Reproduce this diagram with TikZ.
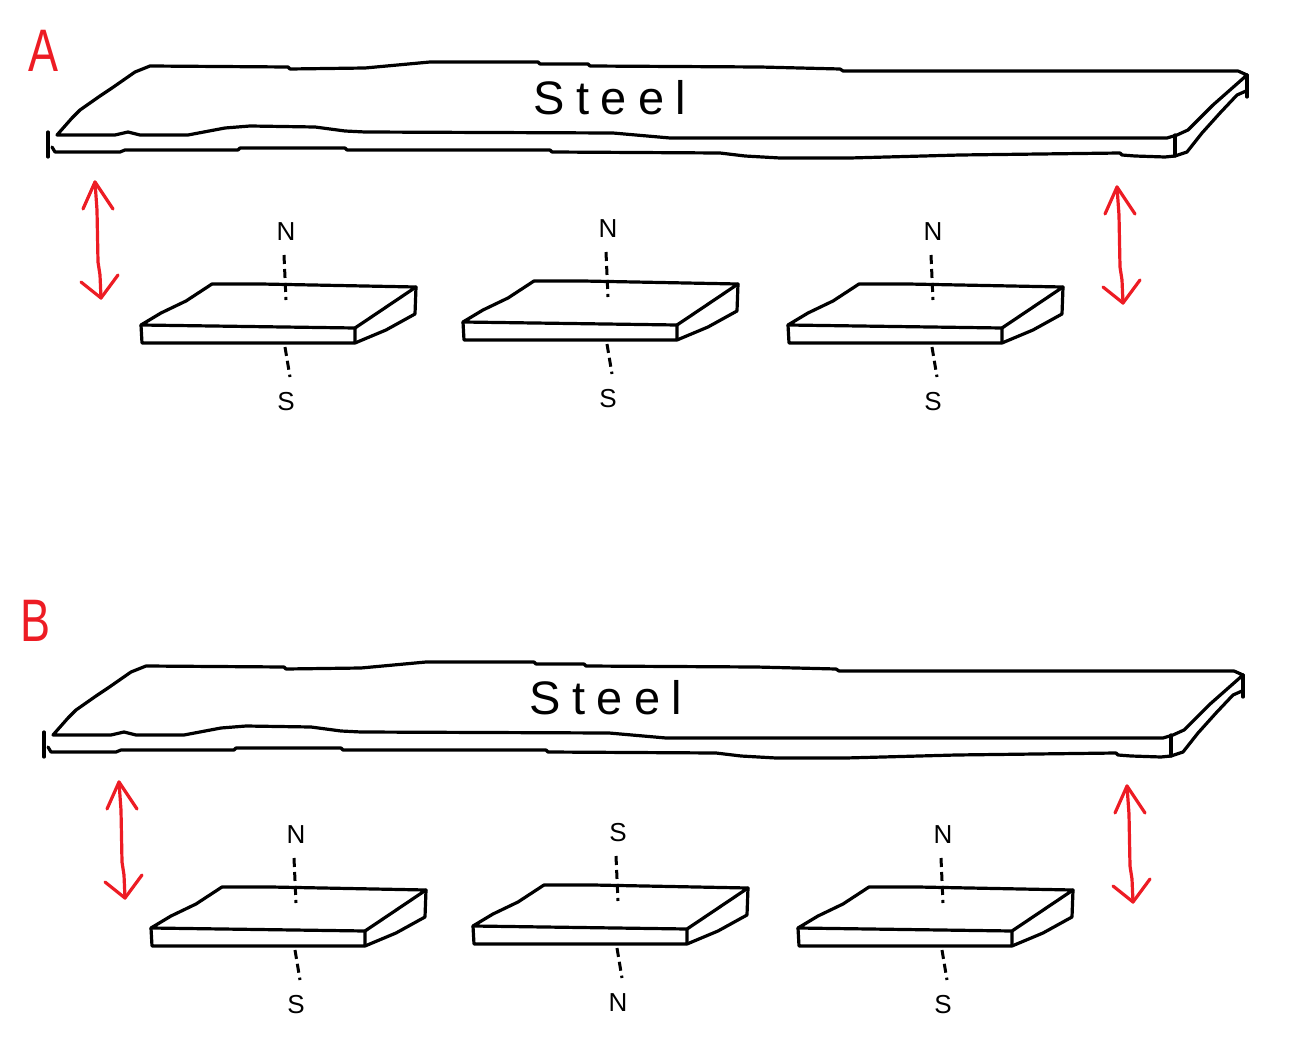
\documentclass[tikz,border=0pt]{standalone}
\usepackage{fontspec}
\setmainfont{Liberation Sans}
\definecolor{penred}{HTML}{ED1C24}
\newfontfamily\steelfont[LetterSpace=24]{Liberation Sans}
\newcommand{\steelplate}[2]{%
\begin{scope}[shift={(#1)}]
\draw[pen] (57,135)--(72,118)--(80,110)--(100,96)--(112,88)--(135,72)--(150,66)--(288,67)--(290,69)--(365,68)--(430,62)--(538,62)--(540,64)--(588,64)--(590,66)--(760,67)--(840,69)--(843,71)--(1238,71)--(1247,75)--(1213,105)--(1188,130)--(1177,135)--(1167,138)--(670,138)--(613,133)--(365,132)--(345,131)--(315,127)--(250,126)--(225,128)--(188,135)--(140,135)--(128,132)--(115,135)--cycle;
\draw[pen] (52,147)--(55,152)--(120,152)--(125,150)--(238,150)--(240,148)--(345,148)--(347,150)--(550,150)--(552,152)--(720,153)--(745,156)--(780,158)--(850,158)--(960,155)--(1120,153)--(1122,155)--(1135,156)--(1165,157)--(1175,156)--(1187,152)--(1202,133)--(1220,113)--(1237,95)--(1246,91);
\draw[pen] (1247,75)--(1247,97);
\draw[pen] (48,132)--(48,157);
\draw[pen] (1175,135)--(1175,156);
\node[steeltext] (#2) at (610,98) {Steel};
\end{scope}}
\newcommand{\magnet}[4]{%
\begin{scope}[shift={(#1)}]
\draw[pen] (0,0)--(20,-12)--(45,-24)--(71,-41)--(120,-41)--(275,-38)--(214,3)--cycle;
\draw[pen] (0,0)--(1,18)--(214,18)--(214,3);
\draw[pen] (214,18)--(245,5)--(274,-11)--(275,-38);
\draw[pole] (143,-70)--(145,-25);
\draw[pole] (144,22)--(149,52);
\node[poletext] (#2n) at (145,-93) {#3};
\node[poletext] (#2s) at (145,77) {#4};
\end{scope}}
\newcommand{\bothways}[1]{%
\begin{scope}[shift={(#1)}]
\draw[redpen] (0,0)--(2,28)--(3,80)--(5,93)--(6,116);
\draw[redpen] (-12,27)--(0,0)--(18,27);
\draw[redpen] (-14,100)--(6,116)--(23,93);
\end{scope}}
\begin{document}
\begin{tikzpicture}[x=1pt,y=-1pt,line join=round,line cap=round,
pen/.style={draw=black,line width=3.2pt},
redpen/.style={draw=penred,line width=3.2pt},
pole/.style={draw=black,line width=3pt,line cap=butt,dash pattern=on 9pt off 5pt},
poletext/.style={font=\fontsize{26}{26}\selectfont,inner sep=0pt},
steeltext/.style={font=\fontsize{47}{47}\steelfont,inner sep=0pt},
letter/.style={text=penred,font=\fontsize{60}{60}\selectfont,inner sep=0pt}]
\useasboundingbox (0,0) rectangle (1302,1062);
\node[letter,xscale=.75,transform shape] (a) at (44,51) {A};
\node[letter,xscale=.75,transform shape] (b) at (36,621) {B};
% top row
\steelplate{0,0}{steela}
\bothways{95,182}
\bothways{1117,187}
\magnet{141,325}{a1}{N}{S}
\magnet{463,322}{a2}{N}{S}
\magnet{788,325}{a3}{N}{S}
% bottom row
\steelplate{-4,600}{steelb}
\bothways{119,782}
\bothways{1127,786}
\magnet{151,928}{b1}{N}{S}
\magnet{473,926}{b2}{S}{N}
\magnet{798,928}{b3}{N}{S}
\end{tikzpicture}
\end{document}
